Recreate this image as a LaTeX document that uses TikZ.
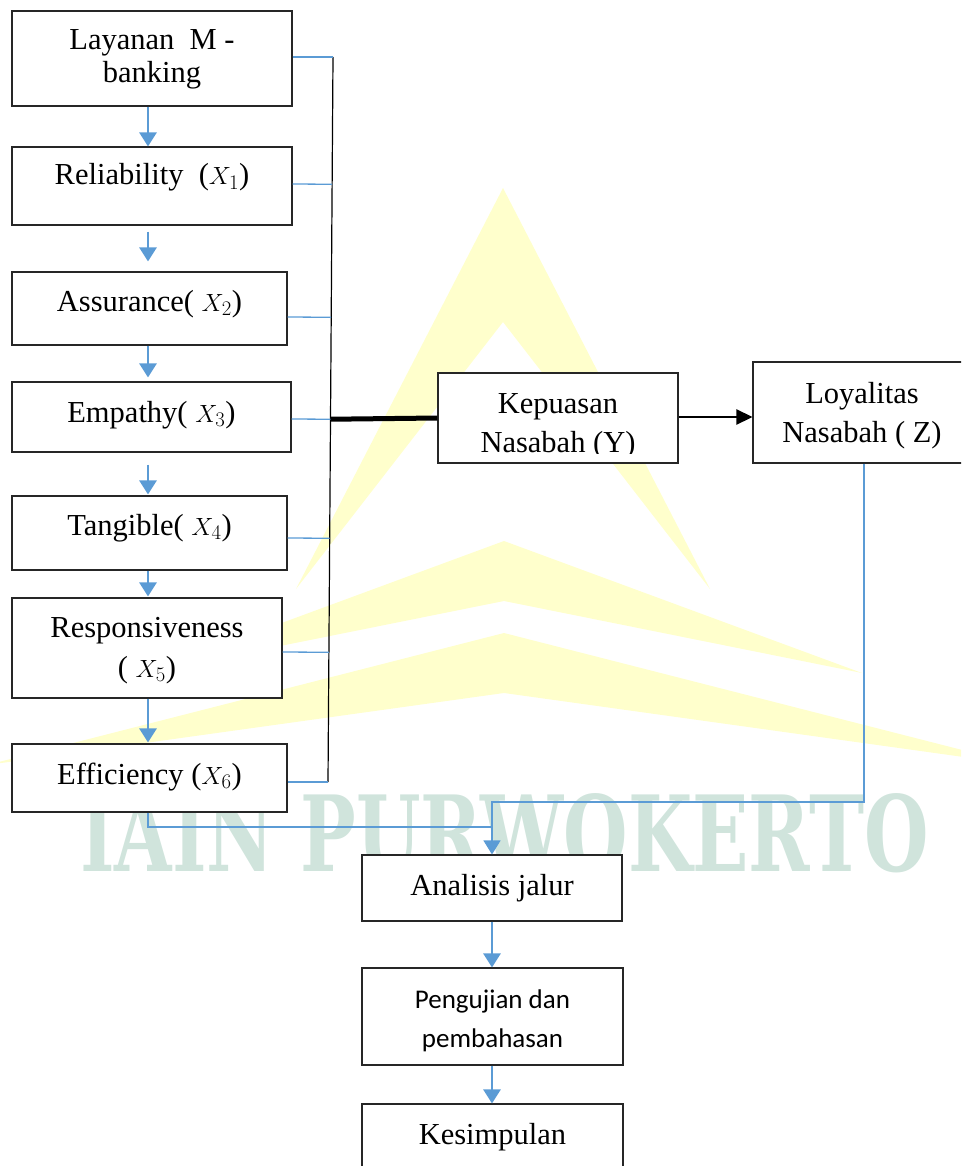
\documentclass[tikz,border=0pt]{standalone}
\usepackage{fontspec}
\setmainfont{Liberation Serif}
\newfontfamily\calibfont{Carlito}
\newfontfamily\wmfont{DejaVu Serif}
\usetikzlibrary{arrows.meta,calc}

\definecolor{flowblue}{HTML}{5B9BD5}
\definecolor{wmyellow}{RGB}{255,255,204}
\definecolor{wmgreen}{RGB}{208,228,220}

% one line of text whose baseline sits #1 above the node centre
\newcommand\oneline[2]{\raisebox{#1}[0pt][0pt]{#2}}
% two centred lines: last baseline #1 above the centre, baselines #2 apart
\newcommand\twoline[4]{\raisebox{#1}[0pt][0pt]{\vbox{\baselineskip=#2\relax
  \lineskiplimit=-100pt\relax\halign{\hfil##\hfil\cr #3\cr #4\cr}}}}

\tikzset{
  box/.style={draw=black!85, line width=1.1pt, fill=white, inner sep=0pt,
              font=\fontsize{30.5}{36.6}\selectfont},
  flow/.style={draw=flowblue, line width=2.6pt, -{Triangle[width=17pt,length=14pt]}},
  tie/.style={draw=flowblue, line width=1.3pt},
  tiearrow/.style={tie, -{Triangle[width=17pt,length=14pt]}},
}

\begin{document}
\begin{tikzpicture}[x=1pt,y=-1pt]
\path[use as bounding box] (0,0) rectangle (961,1166);
\clip (0,0) rectangle (961,1166);

% background logo
\fill[wmyellow] (503,188) -- (710,589) -- (503,322) -- (296,589) -- cycle;
\fill[wmyellow] (504,541) -- (862,673) -- (504,601) -- (146,673) -- cycle;
\fill[wmyellow] (504,633) -- (1021,765) -- (504,693) -- (-13,765) -- cycle;
\node[anchor=south west, inner sep=0pt, text=wmgreen] (wmtext) at (80,873)
  {\resizebox{848pt}{78pt}{\wmfont\bfseries IAIN PURWOKERTO}};

% service-quality chain
\node[box, minimum width=280pt, minimum height=95pt] (lay) at (152,58.5)
  {\twoline{-24.5pt}{33pt}{Layanan\ \ M -}{banking}};
\node[box, minimum width=280pt, minimum height=78pt] (rel) at (152,186)
  {\oneline{1pt}{Reliability\ \ ($X_1$)}};
\node[box, minimum width=275pt, minimum height=73pt] (ass) at (149.5,308.5)
  {\oneline{-2.5pt}{Assurance( $X_2$)}};
\node[box, minimum width=279pt, minimum height=70pt] (emp) at (151.5,417)
  {\oneline{-5pt}{Empathy( $X_3$)}};
\node[box, minimum width=275pt, minimum height=74pt] (tan) at (149.5,533)
  {\oneline{-2pt}{Tangible( $X_4$)}};
\node[box, minimum width=270pt, minimum height=100pt] (res) at (147,648)
  {\twoline{-29pt}{40pt}{Responsiveness}{( $X_5$)}};
\node[box, minimum width=275pt, minimum height=68pt] (eff) at (149.5,778)
  {\oneline{-6pt}{Efficiency ($X_6$)}};

% outcome boxes
\node[box, minimum width=240pt, minimum height=90pt] (kep) at (558,418) {};
\begin{scope}
  \clip (kep.north west) rectangle ([yshift=10pt]kep.south east);
  \node[inner sep=0pt, font=\fontsize{30.5}{36.6}\selectfont] (kepT) at (kep.center)
    {\twoline{-34pt}{39pt}{Kepuasan}{Nasabah (Y)}};
\end{scope}
\node[box, minimum width=218pt, minimum height=101pt] (loy) at (862,412.5)
  {\twoline{-29.5pt}{39pt}{Loyalitas}{Nasabah ( Z)}};

% analysis steps
\node[box, minimum width=260pt, minimum height=66pt] (ana) at (492,888)
  {\oneline{-7pt}{Analisis jalur}};
\node[box, font=\calibfont\fontsize{27}{32.4}\selectfont,
      minimum width=261pt, minimum height=97pt] (pen) at (492.5,1016.5)
  {\twoline{-30.5pt}{39pt}{Pengujian dan}{pembahasan}};
\node[box, minimum width=261pt, minimum height=81pt] (kes) at (492.5,1144.5)
  {\oneline{0.5pt}{Kesimpulan}};

% guide coordinates
\coordinate (bx) at (148,0);
\coordinate (ax) at (492,0);
\coordinate (lx) at (864,0);
\coordinate (ly) at (0,802);
\coordinate (ey) at (0,827);
\coordinate (busT) at (333,57);
\coordinate (busB) at (328,782);

% downward chain arrows
\draw[flow] (lay.south -| bx) -- (rel.north -| bx);
\draw[flow, shorten <=6pt, shorten >=10pt] (rel.south -| bx) -- (ass.north -| bx);
\draw[flow, shorten >=4pt] (ass.south -| bx) -- (emp.north -| bx);
\draw[flow, shorten <=12pt, shorten >=1pt] (emp.south -| bx) -- (tan.north -| bx);
\draw[flow, shorten >=1pt] (tan.south -| bx) -- (res.north -| bx);
\draw[flow, shorten >=1pt] (res.south -| bx) -- (eff.north -| bx);

% collecting bus
\draw[black, line width=1.2pt] (busT) -- (busB);
\coordinate (cLay) at (lay.east |- busT);
\coordinate (cRel) at ([yshift=2pt]rel.east);
\coordinate (cAss) at ([yshift=-8.5pt]ass.east);
\coordinate (cEmp) at ([yshift=-2pt]emp.east);
\coordinate (cTan) at ([yshift=-5pt]tan.east);
\coordinate (cRes) at ([yshift=-4pt]res.east);
\coordinate (cEff) at (eff.east |- busB);
\draw[tie] (cLay) -- (busT);
\foreach \c in {cRel,cAss,cEmp,cTan,cRes}
  \draw[tie] (\c) -- ($(busT)!(\c)!(busB)$);
\draw[tie] (cEff) -- (busB);

% bus to satisfaction to loyalty
\draw[black, line width=5pt] ($(busT)!(cEmp)!(busB)$) -- (kep.west);
\draw[black, line width=2.5pt, -{Triangle[width=15pt,length=16pt]}]
  ([yshift=1pt]kep.east) -- ([yshift=1pt]kep.east -| loy.west);

% into path analysis
\draw[tiearrow] (loy.south -| lx) |- (ly -| ax) -- (ana.north -| ax);
\draw[tie] (eff.south -| bx) |- (ey -| ax);

\draw[flow] (ana.south -| ax) -- (pen.north -| ax);
\draw[flow] (pen.south -| ax) -- (kes.north -| ax);
\end{tikzpicture}
\end{document}
